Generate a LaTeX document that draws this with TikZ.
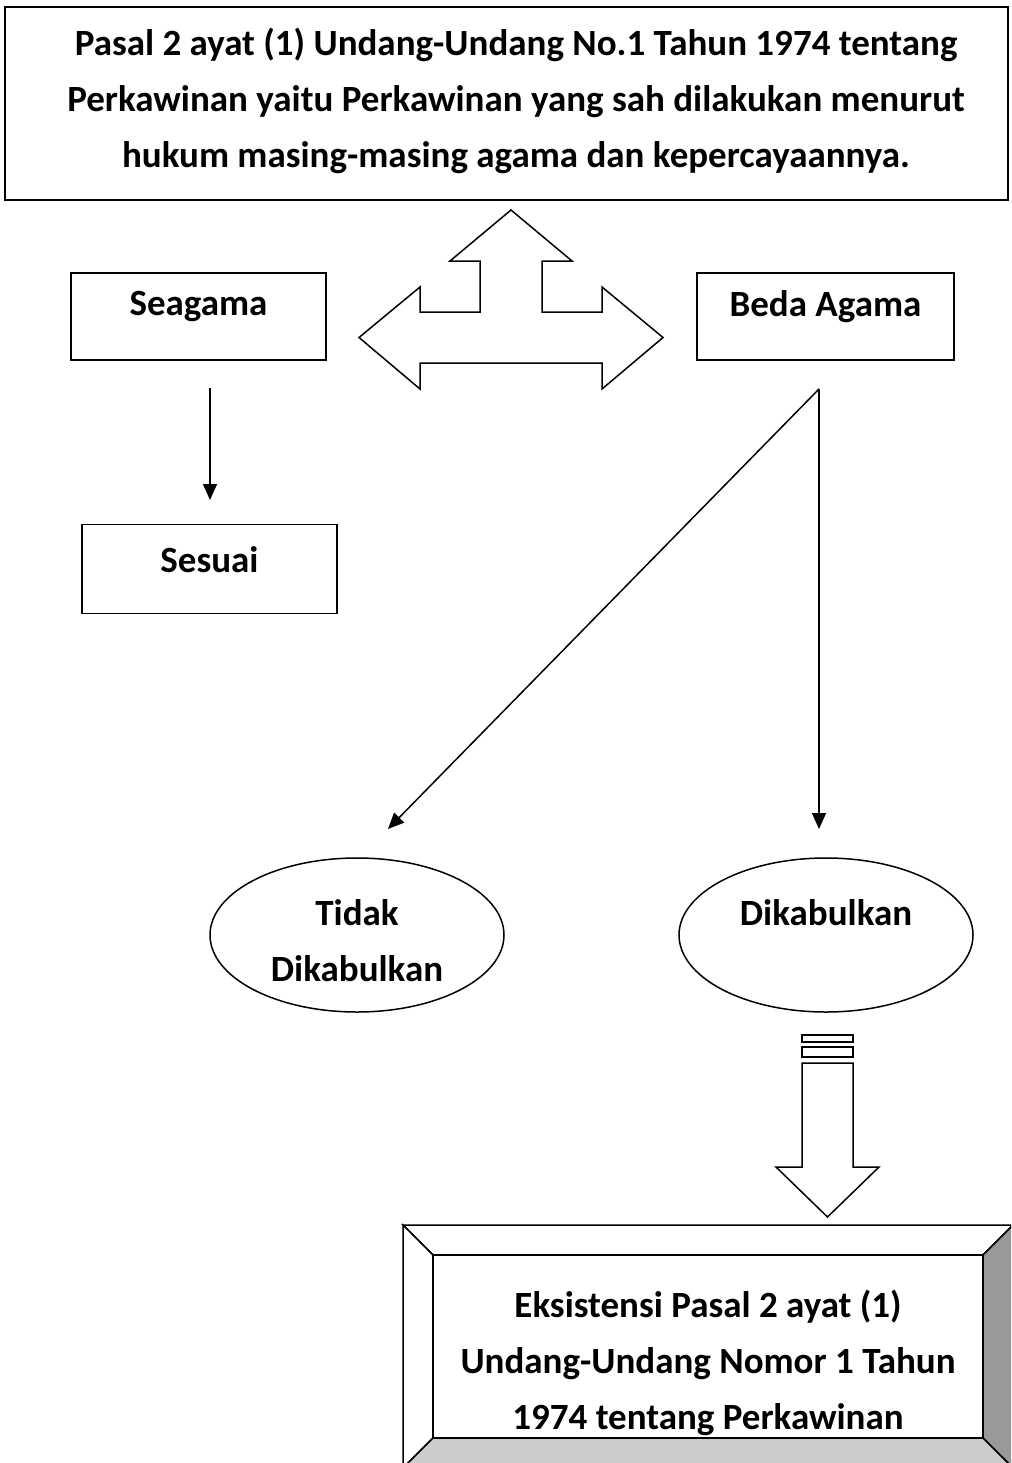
\documentclass[tikz,border=0pt]{standalone}
\usepackage{fontspec}
\setmainfont{Carlito}
\usetikzlibrary{arrows.meta,shapes.geometric}
\begin{document}
\begin{tikzpicture}[x=1pt,y=-1pt,
  box/.style={draw,line width=1.5pt,rectangle,inner sep=0pt},
  oval/.style={draw,line width=1.5pt,ellipse,inner sep=0pt,minimum width=294pt,minimum height=154pt},
  txt/.style={font=\fontsize{37}{56}\selectfont\bfseries,align=center,inner sep=0pt},
  shapeline/.style={draw,line width=1.5pt,line join=miter,fill=white},
  conn/.style={line width=1.5pt,-{Triangle[length=16pt,width=14pt]}}]
\useasboundingbox (0,0) rectangle (1011,1463);
\clip (0,0) rectangle (1011,1463);
\fill[white] (0,0) rectangle (1011,1463);

% top box
\node[box,minimum width=1003pt,minimum height=193pt] (pasal) at (506.5,103.5) {};
\node[txt] (pasaltxt) at (516,101) {Pasal 2 ayat (1) Undang-Undang No.1 Tahun 1974 tentang\\Perkawinan yaitu Perkawinan yang sah dilakukan menurut\\hukum masing-masing agama dan kepercayaannya.};

% triple arrow
\path[shapeline] (511,210) -- (572,261) -- (542,261) -- (542,312) -- (602,312) -- (602,287)
  -- (663,337.5) -- (602,389) -- (602,363) -- (420,363) -- (420,389) -- (359,337.5)
  -- (420,287) -- (420,312) -- (480,312) -- (480,261) -- (450,261) -- cycle;

% Seagama / Beda Agama
\node[box,minimum width=255pt,minimum height=87pt] (seagama) at (198.5,316.5) {};
\node[txt] (seagamatxt) at (198.5,307) {Seagama};
\node[box,minimum width=257pt,minimum height=87pt] (beda) at (825.5,316.5) {};
\node[txt] (bedatxt) at (825.5,307) {Beda Agama};

% Sesuai
\node[box,minimum width=255pt,minimum height=89pt] (sesuai) at (209.5,569) {};
\node[txt] (sesuaitxt) at (209.5,560) {Sesuai};

\coordinate (sa) at (210,388);
\coordinate (sb) at (210,500);
\draw[conn] (sa) -- (sb);

% split from Beda Agama
\coordinate (split) at (819,389);
\coordinate (tipL) at (388,829);
\coordinate (tipR) at (819,829);
\draw[conn] (split) -- (tipL);
\draw[conn] (split) -- (tipR);

% ellipses
\node[oval] (tidak) at (357,935) {};
\node[txt] (tidaktxt) at (357,941) {Tidak\\Dikabulkan};
\node[oval] (kabul) at (826,935) {};
\node[txt] (kabultxt) at (826,913) {Dikabulkan};

% striped arrow
\path[shapeline] (802,1035) rectangle (853,1042);
\path[shapeline] (802,1047) rectangle (853,1057);
\path[shapeline] (802,1063) -- (853,1063) -- (853,1167) -- (879,1167) -- (827.5,1217)
  -- (776,1167) -- (802,1167) -- cycle;

% bevel box
\path[shapeline] (403,1225) -- (1013,1225) -- (983,1255) -- (433,1255) -- cycle;
\path[shapeline] (403,1225) -- (433,1255) -- (433,1438) -- (403,1468) -- cycle;
\path[shapeline,fill=black!40] (1013,1225) -- (1013,1468) -- (983,1438) -- (983,1255) -- cycle;
\path[shapeline,fill=black!20] (403,1468) -- (433,1438) -- (983,1438) -- (1013,1468) -- cycle;
\node[box,minimum width=550pt,minimum height=183pt] (eks) at (708,1346.5) {};
\node[txt] (ekstxt) at (708,1363) {Eksistensi Pasal 2 ayat (1)\\Undang-Undang Nomor 1 Tahun\\1974 tentang Perkawinan};
\end{tikzpicture}
\end{document}
